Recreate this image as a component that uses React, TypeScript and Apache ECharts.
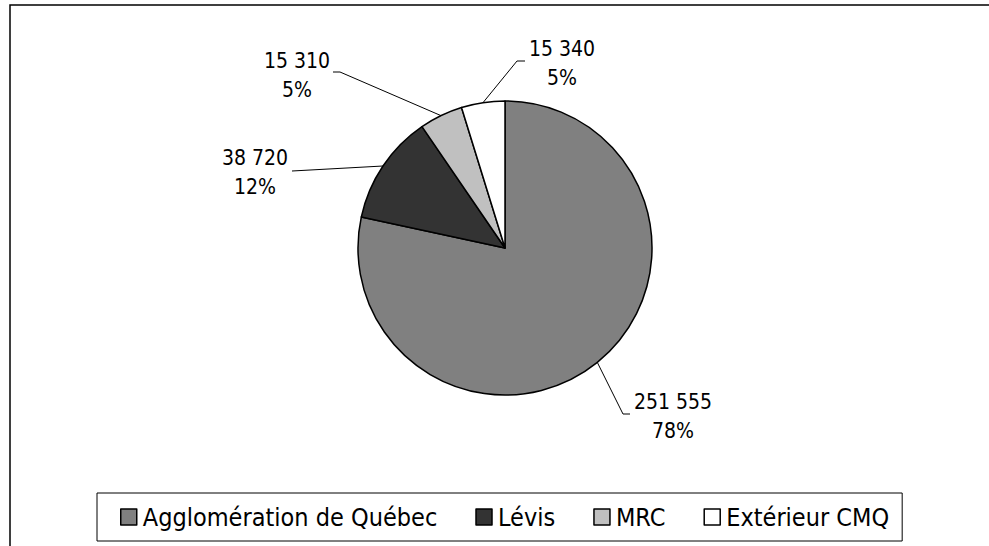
import React, { useEffect, useRef } from "react";
import * as echarts from "echarts";

const categories = ["Agglomération de Québec", "Lévis", "MRC", "Extérieur CMQ"];
const values = [251555, 38720, 15310, 15340];
const colors = ["#808080", "#333333", "#c0c0c0", "#ffffff"];
// label centres (page pixels) and leader offsets relative to them
const labelCenters = [[673, 416], [255, 172], [297, 75], [562, 63]];
const leaderEnds = [[-43, -2], [37, -1], [36, -3], [-37, -2]];
const leaderTurns = [[-50, -2], [37, -1], [43, -3], [-45, -2]];

const FONT = "'DejaVu Sans Condensed', 'DejaVu Sans', sans-serif";

function fmt(v: number): string {
  return String(v).replace(/\B(?=(\d{3})+(?!\d))/g, " ");
}

export default function App() {
  const ref = useRef<HTMLDivElement>(null);
  useEffect(() => {
    document.body.style.margin = "0";
    if (!ref.current) return;
    const chart = echarts.init(ref.current, null, { renderer: "svg" });
    chart.setOption({
      animation: false,
      backgroundColor: "#ffffff",
      graphic: [
        {
          type: "rect",
          shape: { x: 10, y: 5, width: 1000, height: 600 },
          style: { fill: "none", stroke: "#000", lineWidth: 1.5 },
          silent: true,
          z: 0,
        },
      ],
      legend: {
        data: categories,
        left: 97,
        top: 493,
        orient: "horizontal",
        itemGap: 38,
        itemWidth: 16,
        itemHeight: 16,
        icon: "rect",
        padding: [9, 13, 9, 23],
        borderColor: "#000",
        borderWidth: 1,
        selectedMode: false,
        itemStyle: { borderColor: "#000", borderWidth: 1.5 },
        textStyle: { fontSize: 25, fontFamily: FONT, color: "#000", lineHeight: 30, padding: [0, 0, 0, 1] },
      },
      series: [
        {
          type: "pie",
          center: [505, 248],
          radius: 147,
          startAngle: 90,
          clockwise: true,
          avoidLabelOverlap: false,
          silent: true,
          itemStyle: { borderColor: "#000", borderWidth: 1.5 },
          label: {
            show: true,
            position: "outside",
            fontSize: 21,
            lineHeight: 29,
            fontFamily: FONT,
            color: "#000",
            align: "center",
            formatter: (p: any) => `${fmt(p.value)}\n${Math.round(p.percent)}%`,
          },
          labelLine: { show: true, lineStyle: { color: "#000", width: 1 } },
          labelLayout: (p: any) => {
            const i = p.dataIndex;
            const [cx, cy] = labelCenters[i];
            const start = p.labelLinePoints && p.labelLinePoints[0];
            const turn = [cx + leaderTurns[i][0], cy + leaderTurns[i][1]];
            const end = [cx + leaderEnds[i][0], cy + leaderEnds[i][1]];
            const res: any = { x: cx, y: cy, align: "center", verticalAlign: "middle" };
            if (start) res.labelLinePoints = [start, turn, end];
            return res;
          },
          data: categories.map((name, i) => ({
            name,
            value: values[i],
            itemStyle: { color: colors[i] },
          })),
        },
      ],
    });
    return () => chart.dispose();
  }, []);
  return (
    <div
      ref={ref}
      style={{ position: "absolute", left: 0, top: 0, width: 989, height: 546 }}
    />
  );
}
